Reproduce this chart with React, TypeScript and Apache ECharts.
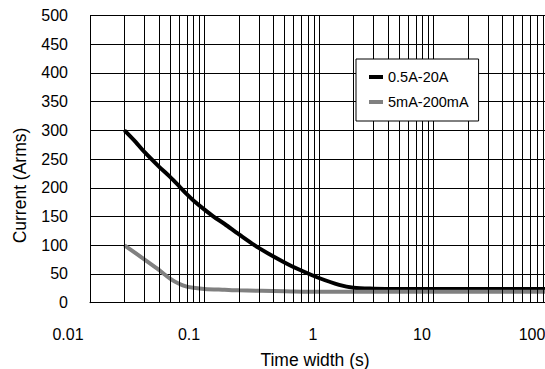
import React, { useEffect, useRef } from "react";
import * as echarts from "echarts";

// ---- data ----
const seriesNames = ["0.5A-20A", "5mA-200mA"];
const blackT = [0.02, 0.025, 0.03, 0.04, 0.05, 0.06, 0.07, 0.08, 0.1, 0.12, 0.15, 0.2, 0.3, 0.5, 0.7, 1, 1.5, 2, 3, 5, 10, 30, 100];
const blackI = [300, 280, 262, 237, 219, 203, 189, 178, 162, 150, 137, 119, 95, 70, 56, 43, 31, 26, 24.5, 24, 24, 24, 24];
const grayT = [0.02, 0.03, 0.04, 0.05, 0.06, 0.07, 0.08, 0.1, 0.15, 0.2, 0.5, 1, 10, 100];
const grayI = [100, 75, 57, 42, 33, 28, 26, 24, 22.5, 21.5, 20, 19, 19, 19];
const xTickLabels = ["0.01", "0.1", "1", "10", "100"];
const xGridValues = [
  0.02, 0.03, 0.04, 0.05, 0.06, 0.07, 0.08, 0.09, 0.1,
  0.2, 0.3, 0.4, 0.5, 0.6, 0.7, 0.8, 0.9, 1,
  2, 3, 4, 5, 6, 7, 8, 9, 10,
  20, 30, 40, 50, 60, 70, 80, 90, 100,
];

// label horizontal shifts (styling only): padding-right in px per decade label
const labelPadRight = [44, 31, 12, 23, 32];

const FONT = "'Liberation Sans', Arial, Helvetica, sans-serif";

export default function App() {
  const ref = useRef<HTMLDivElement>(null);
  useEffect(() => {
    if (!ref.current) return;
    const chart = echarts.init(ref.current, undefined, { renderer: "svg" });
    const rich: Record<string, any> = {};
    xTickLabels.forEach((_, i) => {
      rich["d" + i] = {
        fontSize: 16,
        fontFamily: FONT,
        color: "#000",
        padding: [0, labelPadRight[i], 0, 0],
      };
    });
    chart.setOption({
      animation: false,
      textStyle: { fontFamily: FONT },
      grid: {
        left: 90,
        right: -3,
        top: 15.5,
        bottom: 66.3,
        containLabel: false,
        outerBoundsMode: "none",
      },
      xAxis: {
        type: "log",
        logBase: 10,
        min: 0.01,
        max: 100,
        splitNumber: 4,
        name: "Time width (s)",
        nameLocation: "middle",
        nameGap: 48,
        nameTextStyle: { fontSize: 17.5, color: "#000", fontFamily: FONT, padding: [0, 8, 0, 0] },
        axisLine: { show: true, lineStyle: { color: "#000", width: 1 } },
        axisTick: { show: false },
        splitLine: { show: false },
        axisLabel: {
          show: true,
          margin: 24,
          showMinLabel: true,
          showMaxLabel: true,
          formatter: (v: number) => {
            const i = Math.round(Math.log10(v)) + 2;
            if (i < 0 || i >= xTickLabels.length) return "";
            return `{d${i}|${xTickLabels[i]}}`;
          },
          rich,
        },
      },
      yAxis: {
        type: "value",
        min: 0,
        max: 500,
        interval: 50,
        axisLine: { show: true, lineStyle: { color: "#000", width: 1 } },
        axisTick: { show: false },
        splitLine: { show: true, lineStyle: { color: "#000", width: 1 } },
        axisLabel: { fontSize: 16, color: "#000", margin: 22, fontFamily: FONT },
      },
      legend: {
        data: seriesNames,
        orient: "vertical",
        left: 356,
        top: 59,
        padding: [10, 10, 11, 13],
        itemGap: 9,
        itemWidth: 14,
        itemHeight: 4,
        icon: "rect",
        backgroundColor: "#fff",
        borderColor: "#000",
        borderWidth: 1,
        borderRadius: 0,
        textStyle: { fontSize: 14.5, color: "#000", fontFamily: FONT, lineHeight: 16 },
        z: 10,
      },
      graphic: [
        {
          type: "text",
          x: 19.5,
          y: 185.5,
          rotation: Math.PI / 2,
          style: {
            text: "Current (Arms)",
            fontSize: 17.5,
            fontFamily: FONT,
            fill: "#000",
            align: "center",
            verticalAlign: "middle",
          },
        },
      ],
      series: [
        {
          name: "grid",
          type: "line",
          data: [],
          z: 1,
          silent: true,
          markLine: {
            silent: true,
            symbol: ["none", "none"],
            label: { show: false },
            lineStyle: { color: "#000", width: 1, type: "solid" },
            emphasis: { disabled: true },
            data: xGridValues.map((v) => ({ xAxis: v })),
          },
        },
        {
          name: seriesNames[0],
          type: "line",
          z: 3,
          smooth: 0.3,
          showSymbol: false,
          color: "#000",
          lineStyle: { color: "#000", width: 4 },
          data: blackT.map((t, i) => [t, blackI[i]]),
        },
        {
          name: seriesNames[1],
          type: "line",
          z: 4,
          smooth: 0.3,
          showSymbol: false,
          color: "#808080",
          lineStyle: { color: "#808080", width: 4 },
          data: grayT.map((t, i) => [t, grayI[i]]),
        },
      ],
    });
    return () => chart.dispose();
  }, []);
  return (
    <div
      ref={ref}
      style={{ position: "fixed", left: 0, top: 0, width: 545, height: 369, background: "#fff" }}
    />
  );
}
